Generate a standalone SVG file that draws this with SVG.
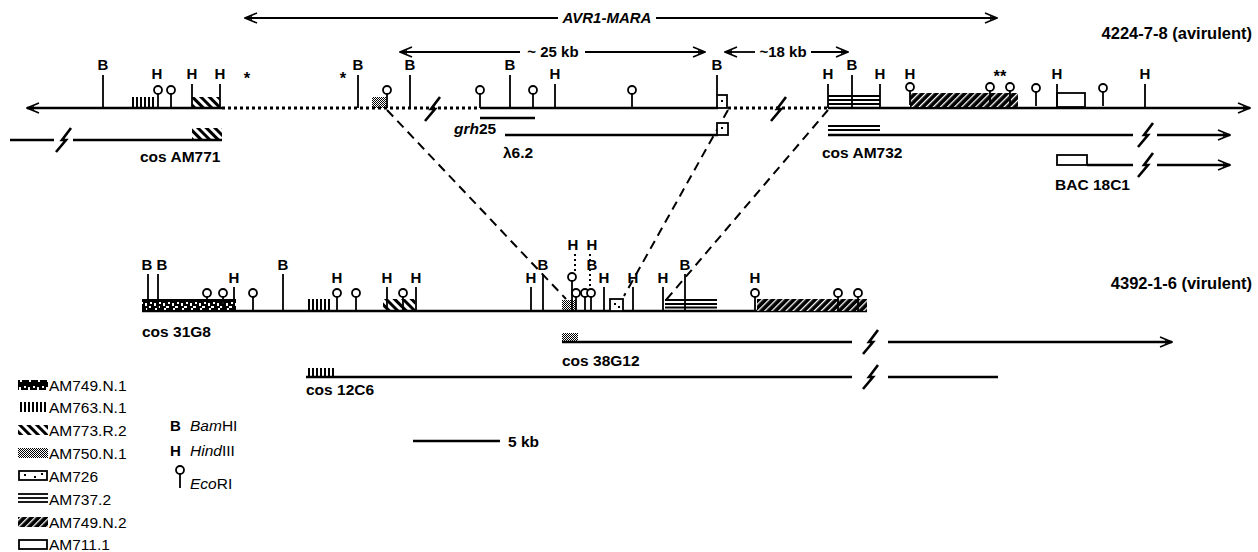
<svg xmlns="http://www.w3.org/2000/svg" xmlns:xlink="http://www.w3.org/1999/xlink" width="1258" height="552" viewBox="0 0 1258 552">
<style>
.t{font-family:"Liberation Sans",Arial,Helvetica,sans-serif;font-weight:bold;font-size:15px;fill:#000}
.c{font-family:"Liberation Sans",Arial,Helvetica,sans-serif;font-weight:bold;font-size:15.5px;fill:#000}
.r{font-family:"Liberation Sans",Arial,Helvetica,sans-serif;font-weight:bold;font-size:16.5px;fill:#000}
.g{font-family:"Liberation Sans",Arial,Helvetica,sans-serif;font-size:15.5px;fill:#000}
.i{font-style:italic}
.m{text-anchor:middle}
.e{text-anchor:end}
.ln{stroke:#000;stroke-width:2.6;fill:none}
.th{stroke:#000;stroke-width:2.2;fill:none}
.tk{stroke:#000;stroke-width:1.8;fill:none}
.dt{stroke:#000;stroke-width:3;stroke-dasharray:3 3;fill:none}
.vd{stroke:#000;stroke-width:2;stroke-dasharray:2 3;fill:none}
.dl{stroke:#000;stroke-width:2;stroke-dasharray:9 6;fill:none}
.o{fill:#fff;stroke:#000;stroke-width:1.8}
.sq{stroke:#000;stroke-width:2.6;fill:none}
</style>
<defs>
<marker id="ah" viewBox="0 0 14 12" refX="13" refY="6" markerWidth="14" markerHeight="12" markerUnits="userSpaceOnUse" orient="auto-start-reverse">
<path d="M1,1 L13,6 L1,11" fill="none" stroke="#000" stroke-width="1.6"/>
<path d="M6,4 L13,6 L6,8 Z" fill="#000"/>
</marker>
<pattern id="pVB" width="4" height="20" patternUnits="userSpaceOnUse"><rect x="0" y="0" width="2" height="20" fill="#000"/></pattern>
<pattern id="pDS" width="6" height="6" patternUnits="userSpaceOnUse" patternTransform="rotate(-45)"><rect x="0" y="0" width="3" height="6" fill="#000"/></pattern>
<pattern id="pCK" width="2" height="2" patternUnits="userSpaceOnUse"><rect width="1" height="1" fill="#000"/><rect x="1" y="1" width="1" height="1" fill="#000"/></pattern>
<pattern id="pN2" width="5" height="5" patternUnits="userSpaceOnUse" patternTransform="rotate(45)"><rect width="5" height="5" fill="#000"/><rect x="0" y="0" width="1.3" height="5" fill="#fff"/></pattern>
<pattern id="pN1" width="9" height="12" patternUnits="userSpaceOnUse"><rect width="9" height="12" fill="#000"/><rect x="1" y="3" width="2" height="3" fill="#fff"/><rect x="4" y="6" width="3" height="2" fill="#fff"/><rect x="2" y="8" width="2" height="2" fill="#fff"/><rect x="6" y="2" width="2" height="2" fill="#fff"/></pattern>
<path id="sqg" d="M8,-12 L-1,0 L3,0 L-7,12"/>
<g id="eco"><line x1="0" y1="4" x2="0" y2="18" class="tk"/><circle cx="0" cy="0" r="4" fill="#fff" stroke="#000" stroke-width="1.8"/></g>
</defs>
<rect width="1258" height="552" fill="#fff"/>

<g id="connectors">
<line class="dl" x1="387" y1="110" x2="566" y2="299"/>
<line class="dl" x1="728" y1="110" x2="624" y2="296"/>
<line class="dl" x1="828" y1="110" x2="666" y2="300"/>
</g>

<g id="avr1-mara">
<line class="th" x1="245" y1="18" x2="558" y2="18" marker-start="url(#ah)"/>
<line class="th" x1="656" y1="18" x2="997" y2="18" marker-end="url(#ah)"/>
<text class="t i m" x="607" y="23">AVR1-MARA</text>
</g>

<g id="dist25">
<line class="tk" x1="400" y1="52" x2="520" y2="52" marker-start="url(#ah)"/>
<line class="tk" x1="585" y1="52" x2="705" y2="52" marker-end="url(#ah)"/>
<text class="t m" x="553" y="57">~ 25 kb</text>
</g>
<g id="dist18">
<line class="tk" x1="725" y1="52" x2="755" y2="52" marker-start="url(#ah)"/>
<line class="tk" x1="811" y1="52" x2="848" y2="52" marker-end="url(#ah)"/>
<text class="t m" x="783" y="57">~18 kb</text>
</g>

<g id="map-avirulent">
<text class="r e" x="1252" y="39">4224-7-8 (avirulent)</text>
<line class="ln" x1="27" y1="108" x2="222" y2="108" marker-start="url(#ah)"/>
<line class="dt" x1="222" y1="108" x2="480" y2="108"/>
<line class="ln" x1="480" y1="108" x2="718" y2="108"/>
<line class="dt" x1="728" y1="108" x2="828" y2="108"/>
<line class="ln" x1="828" y1="108" x2="1250" y2="108" marker-end="url(#ah)"/>
<use href="#sqg" class="sq" x="432" y="109"/>
<use href="#sqg" class="sq" x="778" y="109"/>
<rect x="130" y="97" width="25" height="11" fill="url(#pVB)"/>
<rect x="192" y="97" width="28" height="11" fill="url(#pDS)"/>
<rect x="372" y="97" width="14" height="11" fill="url(#pCK)"/>
<rect x="717" y="95" width="10" height="13" class="o"/><rect x="721" y="100" width="2" height="2" fill="#000"/>
<line class="tk" x1="828" y1="96" x2="880" y2="96"/><line class="tk" x1="828" y1="100" x2="880" y2="100"/><line class="tk" x1="828" y1="104" x2="880" y2="104"/>
<rect x="910" y="93" width="108" height="14" fill="url(#pN2)"/>
<rect x="1057" y="93" width="28" height="14" class="o"/>
<path class="tk" d="M103,75V108M358,75V108M410,75V108M510,75V108M717,75V95M852,75V108"/>
<path class="tk" d="M192,84V108M220,84V108M555,84V108M828,84V108M880,84V108M1057,84V108M1145,84V108"/>
<text class="t m" x="103" y="70">B</text><text class="t m" x="358" y="70">B</text><text class="t m" x="410" y="70">B</text><text class="t m" x="510" y="70">B</text><text class="t m" x="717" y="70">B</text><text class="t m" x="852" y="70">B</text>
<text class="t m" x="157" y="79">H</text><text class="t m" x="192" y="79">H</text><text class="t m" x="220" y="79">H</text><text class="t m" x="555" y="79">H</text><text class="t m" x="828" y="79">H</text><text class="t m" x="880" y="79">H</text><text class="t m" x="910" y="79">H</text><text class="t m" x="1057" y="79">H</text><text class="t m" x="1145" y="79">H</text>
<text class="r m" x="247" y="84">*</text><text class="r m" x="343" y="84">*</text><text class="r m" x="1000" y="82">**</text>
<use href="#eco" x="158" y="90"/><use href="#eco" x="171" y="90"/><use href="#eco" x="387" y="90"/><use href="#eco" x="480" y="90"/><use href="#eco" x="533" y="90"/><use href="#eco" x="632" y="90"/>
<use href="#eco" x="910" y="87"/><use href="#eco" x="990" y="87"/><use href="#eco" x="1010" y="87"/><use href="#eco" x="1036" y="88"/><use href="#eco" x="1103" y="88"/>
</g>

<g id="cos-am771">
<line class="ln" x1="10" y1="140" x2="54" y2="140"/>
<use href="#sqg" class="sq" x="63" y="140"/>
<line class="ln" x1="73" y1="140" x2="222" y2="140"/>
<rect x="192" y="128" width="30" height="12" fill="url(#pDS)"/>
<text class="c" x="140" y="162">cos AM771</text>
</g>
<g id="grh25">
<line class="ln" x1="480" y1="118" x2="535" y2="118"/>
<text class="c" x="454" y="134"><tspan class="i">grh</tspan>25</text>
</g>
<g id="lambda62">
<line class="ln" x1="505" y1="135" x2="718" y2="135"/>
<rect x="717" y="123" width="11" height="12" class="o"/><rect x="721" y="127" width="2" height="2" fill="#000"/>
<text class="c" x="503" y="158">λ6.2</text>
</g>
<g id="cos-am732">
<line class="tk" x1="828" y1="126" x2="880" y2="126"/><line class="tk" x1="828" y1="130" x2="880" y2="130"/>
<line class="ln" x1="828" y1="135" x2="1133" y2="135"/>
<use href="#sqg" class="sq" x="1145" y="135"/>
<line class="ln" x1="1157" y1="135" x2="1230" y2="135" marker-end="url(#ah)"/>
<text class="c" x="822" y="158">cos AM732</text>
</g>
<g id="bac-18c1">
<rect x="1057" y="155" width="30" height="10" class="o"/>
<line class="ln" x1="1087" y1="165" x2="1133" y2="165"/>
<use href="#sqg" class="sq" x="1145" y="165"/>
<line class="ln" x1="1157" y1="165" x2="1230" y2="165" marker-end="url(#ah)"/>
<text class="c" x="1055" y="190">BAC 18C1</text>
</g>

<g id="map-virulent">
<text class="r e" x="1252" y="289">4392-1-6 (virulent)</text>
<line class="ln" x1="142" y1="311" x2="867" y2="311"/>
<rect x="142" y="299" width="94" height="12" fill="url(#pN1)"/>
<rect x="306" y="299" width="26" height="12" fill="url(#pVB)"/>
<rect x="383" y="299" width="32" height="12" fill="url(#pDS)"/>
<rect x="562" y="300" width="14" height="11" fill="url(#pCK)"/>
<rect x="610" y="299" width="13" height="12" class="o"/><rect x="614" y="303" width="2" height="2" fill="#000"/><rect x="618" y="306" width="2" height="2" fill="#000"/>
<line class="tk" x1="665" y1="300" x2="717" y2="300"/><line class="tk" x1="665" y1="304" x2="717" y2="304"/><line class="tk" x1="665" y1="307.5" x2="717" y2="307.5"/>
<rect x="757" y="299" width="110" height="12" fill="url(#pN2)"/>
<path class="tk" d="M148,274V311M158,274V311M283,274V311M543,274V311M685,274V311"/>
<path class="tk" d="M234,287V311M387,287V311M416,287V311M531,287V311M604,287V311M633,287V311M663,287V311"/>
<path class="vd" d="M575,254V272M590,254V289"/>
<text class="t m" x="147" y="270">B</text><text class="t m" x="162" y="270">B</text><text class="t m" x="283" y="270">B</text><text class="t m" x="543" y="270">B</text><text class="t m" x="592" y="270">B</text><text class="t m" x="685" y="270">B</text>
<text class="t m" x="234" y="283">H</text><text class="t m" x="337" y="283">H</text><text class="t m" x="387" y="283">H</text><text class="t m" x="416" y="283">H</text><text class="t m" x="531" y="283">H</text><text class="t m" x="604" y="283">H</text><text class="t m" x="633" y="283">H</text><text class="t m" x="663" y="283">H</text><text class="t m" x="755" y="283">H</text>
<text class="t m" x="573" y="250">H</text><text class="t m" x="592" y="250">H</text>
<use href="#eco" x="207" y="293"/><use href="#eco" x="223" y="293"/><use href="#eco" x="253" y="293"/><use href="#eco" x="337" y="293"/><use href="#eco" x="356" y="293"/><use href="#eco" x="403" y="293"/>
<line class="tk" x1="572" y1="281" x2="572" y2="311"/><circle cx="572" cy="277" r="4" fill="#fff" stroke="#000" stroke-width="1.8"/>
<use href="#eco" x="576" y="293"/><use href="#eco" x="585" y="293"/><use href="#eco" x="591" y="293"/>
<use href="#eco" x="755" y="293"/><use href="#eco" x="838" y="293"/><use href="#eco" x="858" y="293"/>
<text class="c" x="142" y="337">cos 31G8</text>
</g>

<g id="cos-38g12">
<rect x="562" y="333" width="16" height="9" fill="url(#pCK)"/>
<line class="ln" x1="562" y1="342" x2="852" y2="342"/>
<use href="#sqg" class="sq" x="870" y="342"/>
<line class="ln" x1="888" y1="342" x2="1172" y2="342" marker-end="url(#ah)"/>
<text class="c" x="562" y="366">cos 38G12</text>
</g>
<g id="cos-12c6">
<rect x="306" y="368" width="30" height="9" fill="url(#pVB)"/>
<line class="ln" x1="306" y1="377" x2="852" y2="377"/>
<use href="#sqg" class="sq" x="870" y="377"/>
<line class="ln" x1="888" y1="377" x2="998" y2="377"/>
<text class="c" x="306" y="395">cos 12C6</text>
</g>

<g id="scale">
<line class="ln" x1="413" y1="441" x2="500" y2="441"/>
<text class="c" x="508" y="447">5 kb</text>
</g>

<g id="legend">
<rect x="18" y="380" width="30" height="10" fill="url(#pN1)"/><text class="g" x="49" y="391">AM749.N.1</text>
<rect x="18" y="402" width="30" height="10" fill="url(#pVB)"/><text class="g" x="49" y="413">AM763.N.1</text>
<rect x="18" y="425" width="30" height="10" fill="url(#pDS)"/><text class="g" x="49" y="436">AM773.R.2</text>
<rect x="18" y="448" width="30" height="10" fill="url(#pCK)"/><text class="g" x="49" y="459">AM750.N.1</text>
<rect x="19" y="471" width="28" height="9" class="o"/><rect x="24" y="474" width="2" height="2" fill="#000"/><rect x="34" y="476" width="2" height="2" fill="#000"/><rect x="41" y="473" width="2" height="2" fill="#000"/><text class="g" x="49" y="482">AM726</text>
<line class="tk" x1="18" y1="494" x2="48" y2="494"/><line class="tk" x1="18" y1="498" x2="48" y2="498"/><line class="tk" x1="18" y1="502" x2="48" y2="502"/><text class="g" x="49" y="505">AM737.2</text>
<rect x="18" y="517" width="30" height="10" fill="url(#pN2)"/><text class="g" x="49" y="528">AM749.N.2</text>
<rect x="19" y="540" width="28" height="9" class="o"/><text class="g" x="49" y="550">AM711.1</text>
<text class="t" x="170" y="431">B</text><text class="g" x="190" y="431"><tspan class="i">Bam</tspan>HI</text>
<text class="t" x="170" y="456">H</text><text class="g" x="190" y="456"><tspan class="i">Hind</tspan>III</text>
<use href="#eco" x="180" y="470"/>
<text class="g" x="190" y="489"><tspan class="i">Eco</tspan>RI</text>
</g>
</svg>
